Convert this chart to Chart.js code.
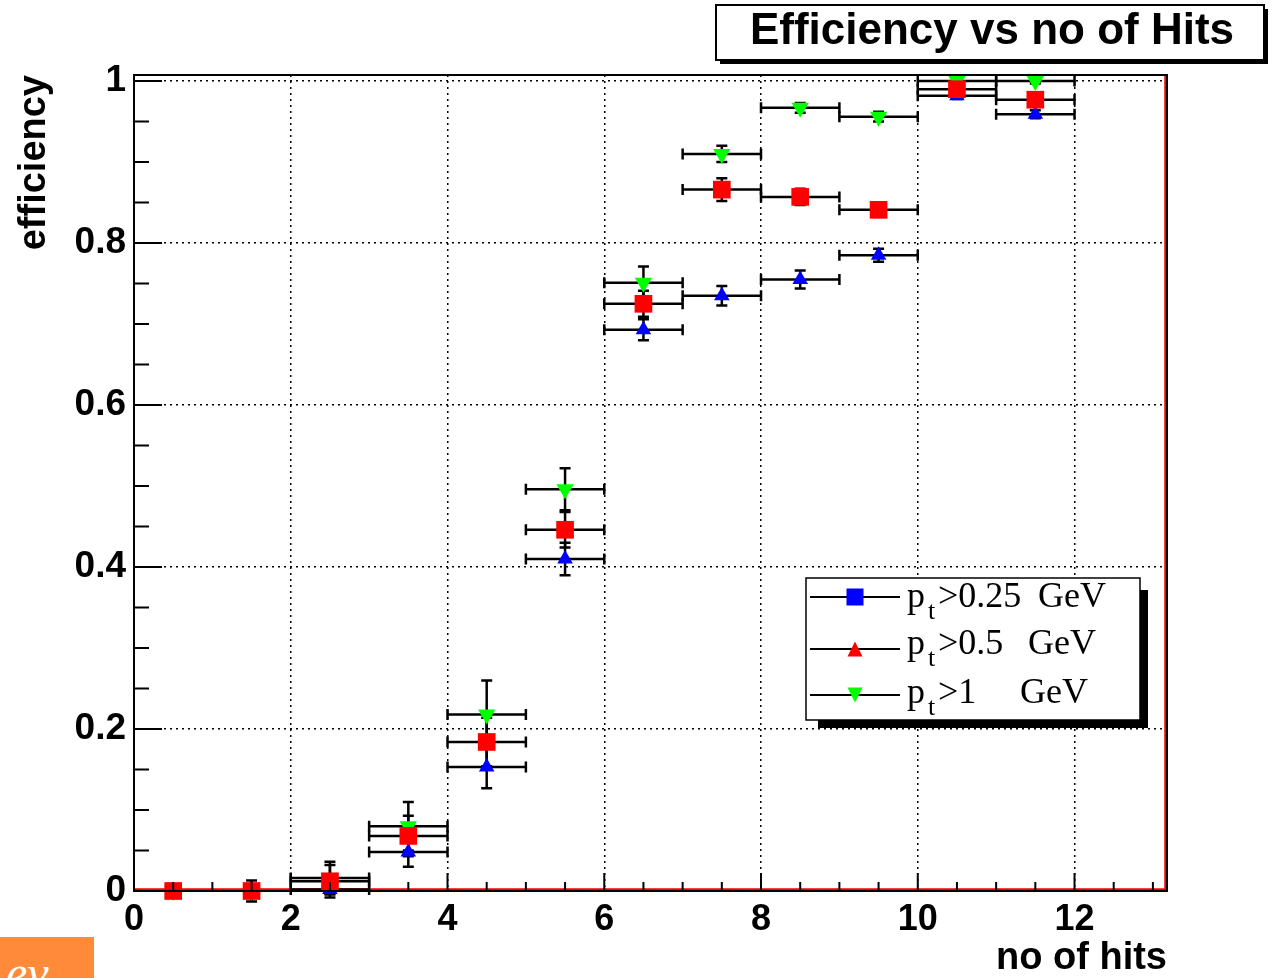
<!DOCTYPE html>
<html>
<head>
<meta charset="utf-8">
<title>Efficiency vs no of Hits</title>
<script src="https://cdn.jsdelivr.net/npm/chart.js@4.4.1/dist/chart.umd.min.js"></script>
<style>
  html, body { margin: 0; padding: 0; background: #fff; }
  #wrap { position: relative; width: 1274px; height: 978px; overflow: hidden; }
  #orange { position: absolute; left: 0; top: 937px; width: 94px; height: 41px; background: #ff8a3a; overflow: hidden; }
  #orange span { position: absolute; left: 6px; top: 12px; color: #fff; font: italic 48px "Liberation Serif", serif; line-height: 1; }
</style>
</head>
<body>
<div id="wrap">
  <canvas id="effChart" width="1274" height="978"></canvas>
  <div id="orange"><span>ev</span></div>
</div>
<script>
// bins of "no of hits" (centres) and half widths for the x error bars
const hitBins = [0.5, 1.5, 2.5, 3.5, 4.5, 5.5, 6.5, 7.5, 8.5, 9.5, 10.5, 11.5];
const binHalfWidth = [0, 0, 0.5, 0.5, 0.5, 0.5, 0.5, 0.5, 0.5, 0.5, 0.5, 0.5];

// efficiency per series
const effPt025 = [0, 0, 0.002, 0.048, 0.153, 0.410, 0.693, 0.735, 0.755, 0.785, 0.982, 0.959];
const errPt025 = [0.002, 0.004, 0.006, 0.018, 0.026, 0.020, 0.013, 0.012, 0.011, 0.008, 0.004, 0.005];

const effPt05 = [0, 0, 0.012, 0.068, 0.184, 0.446, 0.725, 0.866, 0.857, 0.841, 0.990, 0.977];
const errPt05 = [0.004, 0.013, 0.020, 0.025, 0.030, 0.022, 0.016, 0.014, 0.010, 0.008, 0.004, 0.005];

const effPt1 = [0, 0, 0.016, 0.080, 0.218, 0.496, 0.751, 0.910, 0.967, 0.956, 1.0, 1.0];
const errPt1 = [0.004, 0.008, 0.020, 0.030, 0.042, 0.026, 0.020, 0.010, 0.006, 0.006, 0.003, 0.003];

const xTickValues = [0, 2, 4, 6, 8, 10, 12];
const yTickValues = [0, 0.2, 0.4, 0.6, 0.8, 1];
const yTickLabels = ['0', '0.2', '0.4', '0.6', '0.8', '1'];

const legendCuts = ['>0.25', '>0.5', '>1'];
const legendUnit = 'GeV';
const chartTitle = 'Efficiency vs no of Hits';

function toPoints(values) {
    return hitBins.map((x, i) => ({ x: x, y: values[i] }));
}

// little marker shapes for the legend box
function drawMarker(ctx, shape, x, y, size, color) {
    ctx.fillStyle = color;
    ctx.beginPath();
    if (shape === 'rect') {
        ctx.rect(x - size / 2, y - size / 2, size, size);
    } else if (shape === 'up') {
        ctx.moveTo(x, y - size / 2);
        ctx.lineTo(x + size / 2, y + size / 2);
        ctx.lineTo(x - size / 2, y + size / 2);
    } else {
        ctx.moveTo(x, y + size / 2);
        ctx.lineTo(x + size / 2, y - size / 2);
        ctx.lineTo(x - size / 2, y - size / 2);
    }
    ctx.closePath();
    ctx.fill();
}

const errorBars = {
    id: 'errorBars',
    beforeDatasetsDraw(chart) {
        const { ctx, chartArea: a, scales: { x, y } } = chart;
        ctx.save();
        // red histogram line along y = 0 and the right edge
        ctx.strokeStyle = '#ff0000';
        ctx.lineWidth = 2.5;
        ctx.beginPath();
        ctx.moveTo(a.left, a.bottom - 1.5);
        ctx.lineTo(a.right - 1.5, a.bottom - 1.5);
        ctx.lineTo(a.right - 1.5, a.top);
        ctx.stroke();

        ctx.strokeStyle = '#000';
        ctx.lineWidth = 2.5;
        const cap = 5.5;
        chart.data.datasets.forEach(ds => {
            ds.data.forEach((p, i) => {
                const px = x.getPixelForValue(p.x);
                const py = y.getPixelForValue(p.y);
                const dx = ds.xErr[i];
                const dy = ds.yErr[i];
                ctx.beginPath();
                if (dx > 0) {
                    const x0 = x.getPixelForValue(p.x - dx);
                    const x1 = x.getPixelForValue(p.x + dx);
                    ctx.moveTo(x0, py); ctx.lineTo(x1, py);
                    ctx.moveTo(x0, py - cap); ctx.lineTo(x0, py + cap);
                    ctx.moveTo(x1, py - cap); ctx.lineTo(x1, py + cap);
                }
                if (dy > 0) {
                    const y0 = y.getPixelForValue(p.y - dy);
                    const y1 = y.getPixelForValue(p.y + dy);
                    ctx.moveTo(px, y0); ctx.lineTo(px, y1);
                    ctx.moveTo(px - cap, y0); ctx.lineTo(px + cap, y0);
                    ctx.moveTo(px - cap, y1); ctx.lineTo(px + cap, y1);
                }
                ctx.stroke();
            });
        });
        ctx.restore();
    }
};

const frameAndTicks = {
    id: 'frameAndTicks',
    afterDatasetsDraw(chart) {
        const { ctx, chartArea: a, scales: { x, y } } = chart;
        ctx.save();
        ctx.strokeStyle = '#000';
        ctx.lineWidth = 2;
        ctx.strokeRect(a.left, a.top, a.right - a.left, a.bottom - a.top);

        // ROOT style ticks, pointing into the frame
        ctx.beginPath();
        for (let v = 0; v <= 1.0001; v += 0.05) {
            const py = y.getPixelForValue(v);
            const major = Math.abs(v / 0.2 - Math.round(v / 0.2)) < 1e-6;
            ctx.moveTo(a.left, py);
            ctx.lineTo(a.left + (major ? 28 : 15), py);
        }
        for (let v = 0; v <= x.max; v += 0.5) {
            const px = x.getPixelForValue(v);
            const major = v % 2 === 0;
            ctx.moveTo(px, a.bottom);
            ctx.lineTo(px, a.bottom - (major ? 18 : 9));
        }
        ctx.stroke();
        ctx.restore();
    },
    afterDraw(chart) {
        const ctx = chart.ctx;
        ctx.save();

        // title box with shadow
        ctx.fillStyle = '#000';
        ctx.fillRect(720, 9, 548, 55);
        ctx.fillStyle = '#fff';
        ctx.fillRect(716, 5, 548, 55);
        ctx.strokeStyle = '#000';
        ctx.lineWidth = 2;
        ctx.strokeRect(716, 5, 548, 55);
        ctx.fillStyle = '#000';
        ctx.font = 'bold 44px "Liberation Sans", Arial, sans-serif';
        ctx.textAlign = 'center';
        ctx.textBaseline = 'middle';
        ctx.fillText(chartTitle, 992, 32);

        // legend box with shadow
        ctx.fillStyle = '#000';
        ctx.fillRect(818, 590, 330, 138);
        ctx.fillStyle = '#fff';
        ctx.fillRect(806, 578, 334, 142);
        ctx.lineWidth = 1.5;
        ctx.strokeRect(806, 578, 334, 142);

        const rows = [
            { y: 597, base: 607, shape: 'rect', color: '#0000ff', unitX: 1038 },
            { y: 649, base: 654, shape: 'up', color: '#ff0000', unitX: 1028 },
            { y: 695, base: 703, shape: 'down', color: '#00ff00', unitX: 1020 }
        ];
        rows.forEach((r, i) => {
            ctx.strokeStyle = '#000';
            ctx.lineWidth = 2;
            ctx.beginPath();
            ctx.moveTo(810, r.y);
            ctx.lineTo(900, r.y);
            ctx.stroke();
            drawMarker(ctx, r.shape, 855, r.y, r.shape === 'rect' ? 17 : 15, r.color);

            ctx.fillStyle = '#000';
            ctx.textAlign = 'left';
            ctx.textBaseline = 'alphabetic';
            ctx.font = '36px "Liberation Serif", "Times New Roman", serif';
            ctx.fillText('p', 907, r.base);
            ctx.fillText(legendCuts[i], 938, r.base);
            ctx.fillText(legendUnit, r.unitX, r.base);
            ctx.font = '26px "Liberation Serif", "Times New Roman", serif';
            ctx.fillText('t', 928, r.base + 12);
        });
        ctx.restore();
    }
};

const axisFont = { family: '"Liberation Sans", Arial, sans-serif', size: 38, weight: 'bold' };

const ctx = document.getElementById('effChart').getContext('2d');
const effChart = new Chart(ctx, {
    type: 'scatter',
    data: {
        datasets: [
            {
                label: 'pt>0.25 GeV',
                data: toPoints(effPt025),
                xErr: binHalfWidth,
                yErr: errPt025,
                pointStyle: 'triangle',
                pointRadius: 9,
                backgroundColor: '#0000ff',
                borderWidth: 0,
                order: 2
            },
            {
                label: 'pt>0.5 GeV',
                data: toPoints(effPt05),
                xErr: binHalfWidth,
                yErr: errPt05,
                pointStyle: 'rect',
                pointRadius: 12.5,
                backgroundColor: '#ff0000',
                borderWidth: 0,
                order: 0
            },
            {
                label: 'pt>1 GeV',
                data: toPoints(effPt1),
                xErr: binHalfWidth,
                yErr: errPt1,
                pointStyle: 'triangle',
                rotation: 180,
                pointRadius: 10,
                backgroundColor: '#00ff00',
                borderWidth: 0,
                order: 1
            }
        ]
    },
    options: {
        responsive: false,
        animation: false,
        clip: false,
        layout: { padding: { top: 75, right: 107, left: 10, bottom: 0 } },
        scales: {
            x: {
                type: 'linear',
                min: 0,
                max: 13.18,
                afterBuildTicks: s => { s.ticks = xTickValues.map(v => ({ value: v })); },
                afterFit: s => { s.height = 87; },
                grid: { color: '#000', lineWidth: 1.5, drawTicks: false },
                border: { display: false, dash: [2, 4] },
                ticks: { color: '#000', font: { ...axisFont, size: 36 }, padding: 7, maxRotation: 0, autoSkip: false },
                title: { display: true, text: 'no of hits', align: 'end', color: '#000', font: { ...axisFont, lineHeight: 1.0 }, padding: 0 }
            },
            y: {
                type: 'linear',
                min: 0,
                max: 1.0075,
                afterBuildTicks: s => { s.ticks = yTickValues.map(v => ({ value: v })); },
                afterFit: s => { s.width = 124; },
                grid: { color: '#000', lineWidth: 1.5, drawTicks: false },
                border: { display: false, dash: [2, 4] },
                ticks: {
                    color: '#000',
                    font: { ...axisFont, size: 37 },
                    padding: 8,
                    autoSkip: false,
                    callback: (v, i) => yTickLabels[i]
                },
                title: { display: true, text: 'efficiency', align: 'end', color: '#000', font: { ...axisFont, lineHeight: 1.0 }, padding: { top: 6, bottom: 0 } }
            }
        },
        plugins: {
            legend: { display: false },
            tooltip: { enabled: false }
        }
    },
    plugins: [errorBars, frameAndTicks]
});
</script>
</body>
</html>
